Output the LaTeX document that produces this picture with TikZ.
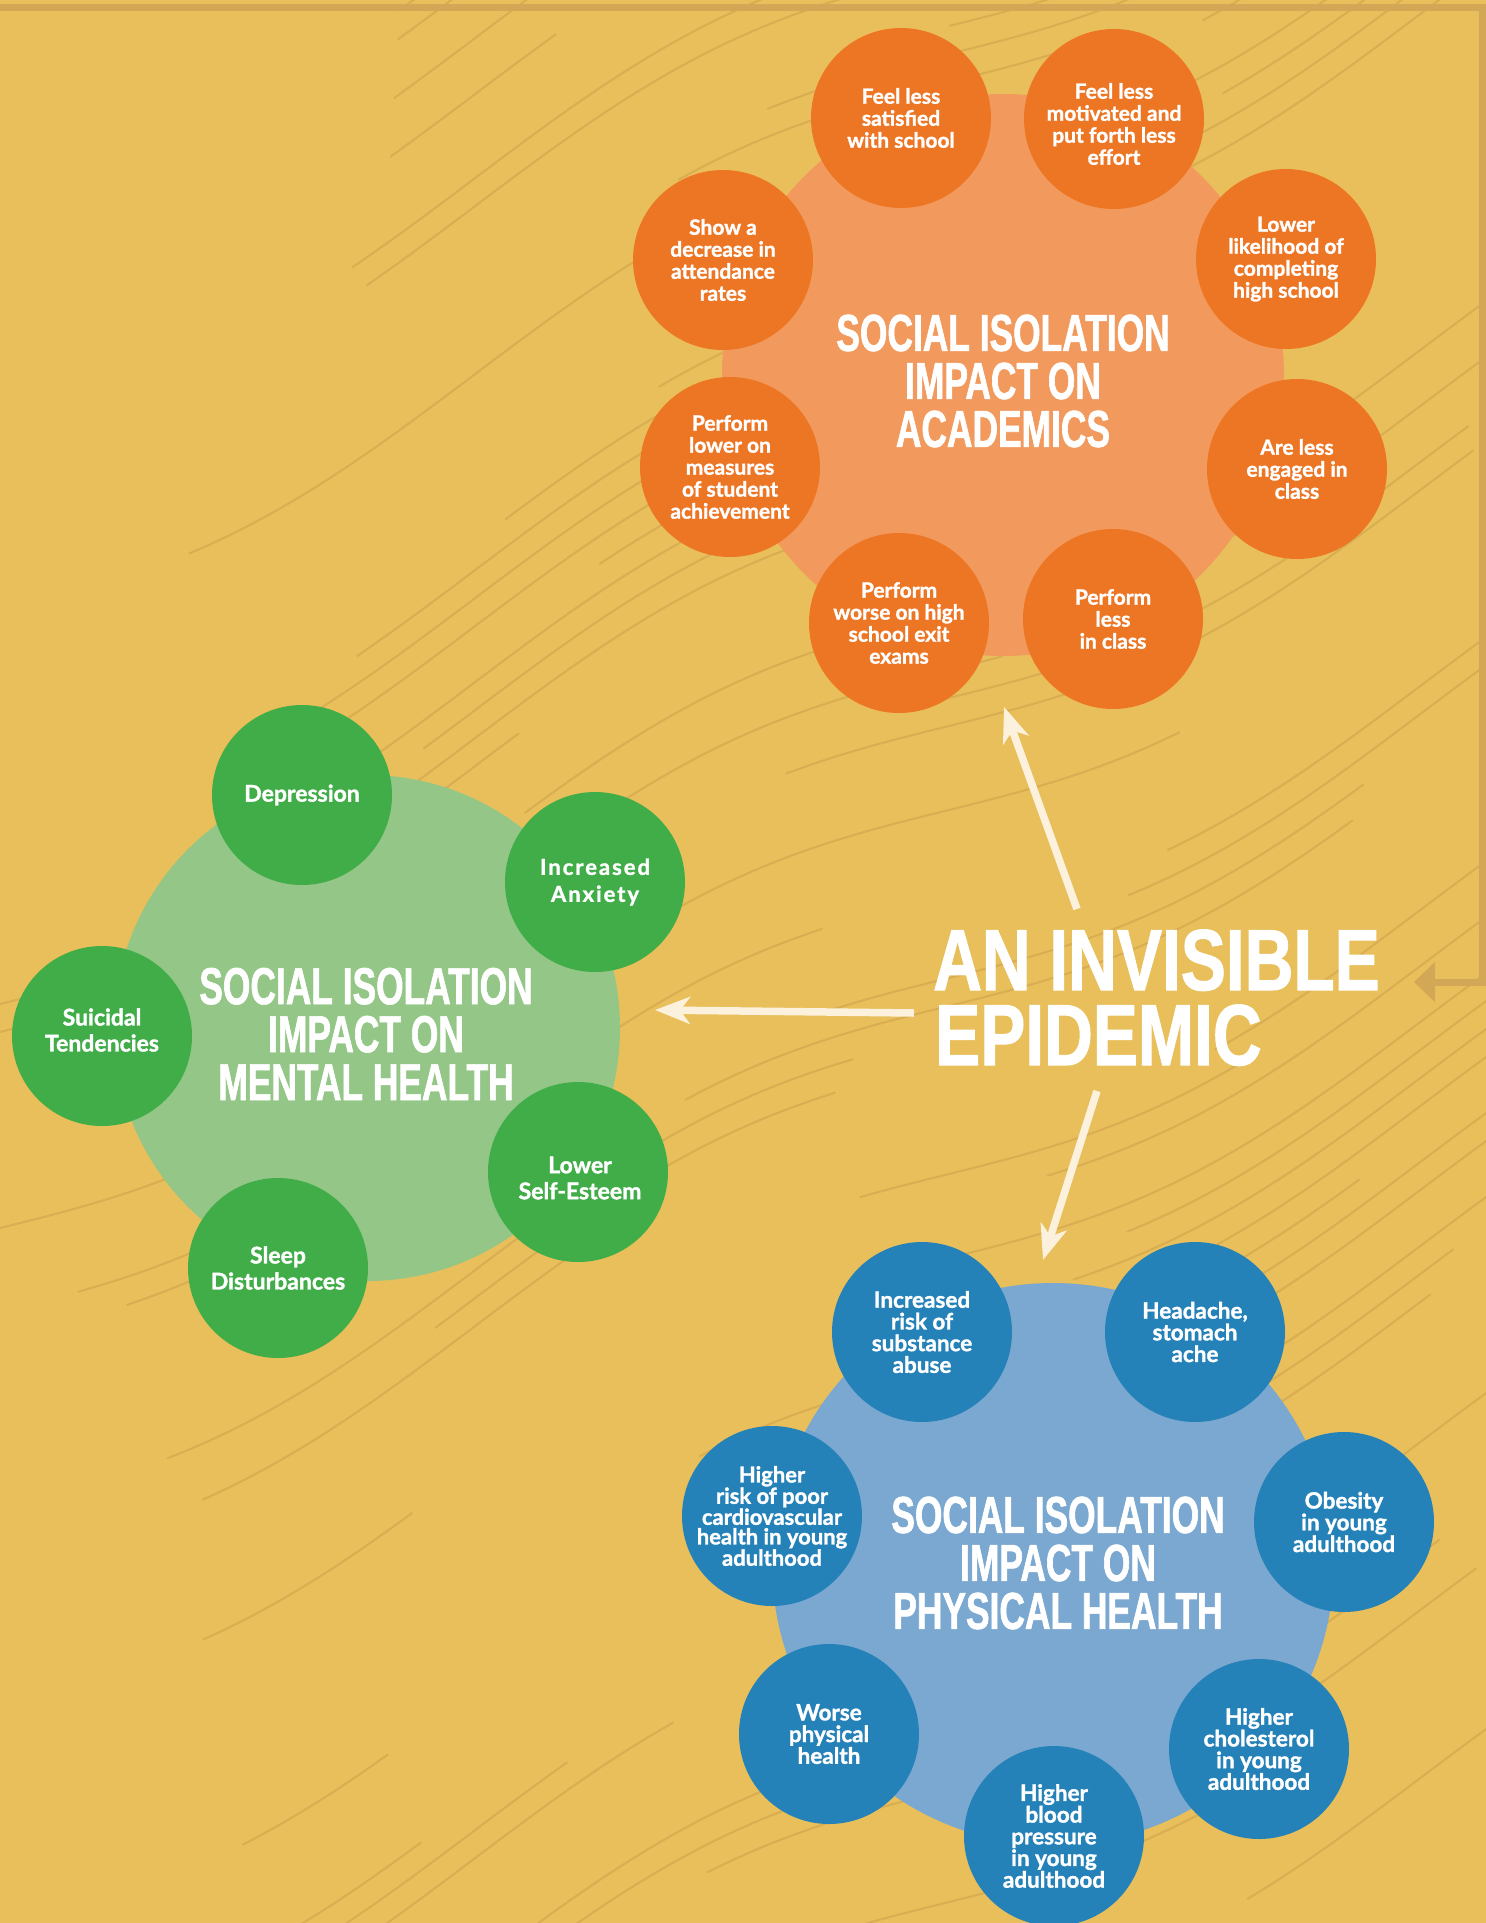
\documentclass[tikz,border=0pt]{standalone}
\usepackage{fontspec}
\setmainfont{Lato}[BoldFeatures={FakeBold=1.4}]
\newfontfamily\headfont[FakeStretch=0.68,FakeBold=1.2]{Liberation Sans}
\newfontfamily\titlefont[FakeStretch=0.78,FakeBold=1.2]{Liberation Sans}
\usetikzlibrary{arrows.meta}
\definecolor{bgc}{HTML}{E8BF5A}
\definecolor{texc}{HTML}{D9AD52}
\definecolor{brk}{HTML}{D2A857}
\definecolor{orS}{HTML}{ED7625}
\definecolor{orB}{HTML}{F29A5D}
\definecolor{grS}{HTML}{41AD49}
\definecolor{grB}{HTML}{93C687}
\definecolor{blS}{HTML}{2582B8}
\definecolor{blB}{HTML}{7BA8D0}
\definecolor{cream}{HTML}{FBF1DC}
\tikzset{
  texture/.style={draw=texc, line width=2pt, line cap=round},
  bigc/.style={circle, minimum size=562pt, inner sep=0pt},
  smallc/.style={circle, minimum size=180pt, inner sep=0pt, text=white, align=center},
  orsm/.style={smallc, fill=orS, font={\fontsize{21}{22}\selectfont\bfseries}},
  grsm/.style={smallc, fill=grS, font={\fontsize{23}{26}\selectfont\bfseries}},
  grsp/.style={smallc, fill=grS, font={\fontsize{22}{27}\selectfont\bfseries\addfontfeature{LetterSpace=9}}},
  blsm/.style={smallc, fill=blS, font={\fontsize{22.5}{21.7}\selectfont\bfseries}},
  blcd/.style={smallc, fill=blS, font={\fontsize{22}{19.6}\selectfont\bfseries}},
  heading/.style={text=white, align=center, inner sep=0pt, font={\headfont\bfseries\fontsize{52}{48}\selectfont}},
  titletext/.style={text=white, inner sep=0pt, anchor=base west, font={\titlefont\bfseries\fontsize{86.6}{75}\selectfont}},
  creamarrow/.style={draw=cream, line width=7.5pt, -{Stealth[length=35pt,width=27pt,inset=10pt]}},
  bracket/.style={draw=brk, line width=7pt, -{Triangle[length=21pt,width=39pt]}}
}
\begin{document}
\begin{tikzpicture}[x=1pt,y=-1pt]
\useasboundingbox (0,0) rectangle (1486,1923);
\fill[bgc] (0,0) rectangle (1486,1923);
% texture
\begin{scope}
\clip (400,0) -- (1486,0) -- (1486,1923) -- (270,1923) -- (205,1740) -- (200,1500)
  -- (90,1360) -- (0,1360) -- (0,715) -- (314,376) -- (390,160) -- cycle;
\pgfmathsetseed{4711}
\foreach \c in {-60,-32,...,2700}{
  \pgfmathsetmacro{\s}{-250+1500*rnd}
  \pgfmathsetmacro{\e}{\s+300+450*rnd}
  \draw[texture] plot[domain=\s:\e, samples=35, smooth] (\x,{\c-0.5*\x+38*sin(0.38*\x)});
}
\end{scope}
% bracket
\coordinate (bk0) at (0,7);
\coordinate (bk1) at (1482.5,7);
\coordinate (bk2) at (1482.5,982);
\coordinate (bk3) at (1414,982);
\draw[bracket] (bk0) -- (bk1) -- (bk2) -- (bk3);
% academics
\node[bigc, fill=orB] (acad) at (1003,375) {};
\node[orsm] (a1) at (901,118) {Feel less\\satisfied\\with school};
\node[orsm] (a2) at (1114,119) {};
\node[text=white, align=center, inner sep=0pt, font={\fontsize{21}{22}\selectfont\bfseries}] (a2t) at (1114,124) {Feel less\\motivated and\\put forth less\\effort};
\node[orsm] (a3) at (1286,259) {Lower\\likelihood of\\completing\\high school};
\node[orsm] (a4) at (1297,469) {Are less\\engaged in\\class};
\node[orsm] (a5) at (1113,619) {Perform\\less\\in class};
\node[orsm] (a6) at (899,623) {Perform\\worse on high\\school exit\\exams};
\node[orsm] (a7) at (730,467) {Perform\\lower on\\measures\\of student\\achievement};
\node[orsm] (a8) at (723,260) {Show a\\decrease in\\attendance\\rates};
\node[heading] (acadh) at (1003,381) {SOCIAL ISOLATION\\IMPACT ON\\ACADEMICS};
% mental
\node[bigc, fill=grB, minimum size=506pt] (ment) at (367,1028) {};
\node[grsm] (m1) at (302,795) {Depression};
\node[grsp] (m2) at (595,882) {Increased\\Anxiety};
\node[grsm] (m3) at (102,1036) {};
\node[text=white, align=center, inner sep=0pt, font={\fontsize{23}{26}\selectfont\bfseries}] (m3t) at (102,1030) {Suicidal\\Tendencies};
\node[grsm] (m4) at (578,1172) {};
\node[text=white, align=center, inner sep=0pt, font={\fontsize{23}{26}\selectfont\bfseries}] (m4t) at (580,1178) {Lower\\Self-Esteem};
\node[grsm] (m5) at (278,1268) {Sleep\\Disturbances};
\node[heading] (menth) at (366,1034) {SOCIAL ISOLATION\\IMPACT ON\\MENTAL HEALTH};
% physical
\node[bigc, fill=blB] (phys) at (1053,1564) {};
\node[blsm] (p1) at (922,1332) {Increased\\risk of\\substance\\abuse};
\node[blsm] (p2) at (1195,1332) {Headache,\\stomach\\ache};
\node[blsm] (p3) at (1344,1522) {Obesity\\in young\\adulthood};
\node[blsm] (p4) at (1259,1749) {Higher\\cholesterol\\in young\\adulthood};
\node[blsm] (p5) at (1054,1836) {Higher\\blood\\pressure\\in young\\adulthood};
\node[blsm] (p6) at (829,1734) {Worse\\physical\\health};
\node[blcd] (p7) at (772,1516) {Higher\\risk of poor\\cardiovascular\\health in young\\adulthood};
\node[heading] (physh) at (1058,1563) {SOCIAL ISOLATION\\IMPACT ON\\PHYSICAL HEALTH};
% title
\node[titletext] (title1) at (933,990) {AN INVISIBLE};
\node[titletext] (title2) at (935,1065) {EPIDEMIC};
% arrows
\coordinate (tA) at (1077,909);
\coordinate (hA) at (1004,707);
\coordinate (tM) at (914,1013);
\coordinate (hM) at (655,1010);
\coordinate (tP) at (1097,1091);
\coordinate (hP) at (1043,1260);
\draw[creamarrow] (tA) -- (hA);
\draw[creamarrow] (tM) -- (hM);
\draw[creamarrow] (tP) -- (hP);
\end{tikzpicture}
\end{document}
